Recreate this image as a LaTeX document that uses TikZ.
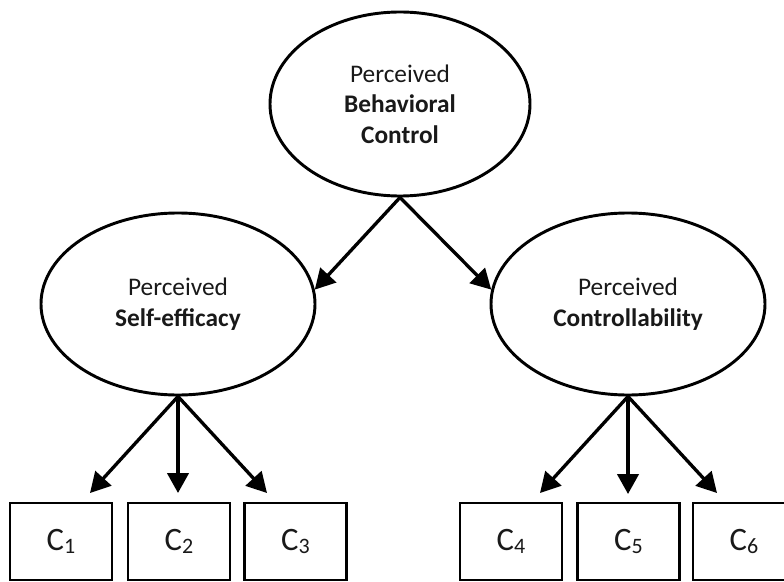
\documentclass[tikz,border=0pt]{standalone}
\usepackage{fontspec}
\setmainfont{Carlito}
\usetikzlibrary{arrows.meta,shapes.geometric}
\newcommand\Csub[1]{C\raisebox{-0.1em}{\fontsize{16.5}{17}\selectfont #1}}
\begin{document}
\begin{tikzpicture}[x=0.75pt,y=-0.75pt,
  latent/.style={draw, ellipse, line width=2.2pt, inner sep=0pt, align=center,
    font=\fontsize{19}{23}\selectfont, text=black!90},
  indicator/.style={draw, rectangle, line width=2.2pt, minimum width=76.5pt,
    minimum height=57.75pt, inner sep=0pt, font=\fontsize{24.5}{28}\selectfont, text=black!90},
  link/.style={line width=2.5pt, -{Triangle[length=15pt,width=16pt]}}]
\useasboundingbox (0,0) rectangle (784,581);
\clip (0,0) rectangle (784,581);

\node[latent, minimum width=195pt, minimum height=138pt] (pbc) at (400,104)
  {Perceived\\\textbf{Behavioral}\\\textbf{Control}};
\node[latent, minimum width=205.5pt, minimum height=136.5pt] (pse) at (178,304)
  {Perceived\\\textbf{Self-efficacy}};
\node[latent, minimum width=205.5pt, minimum height=136.5pt] (pc) at (628,304)
  {Perceived\\\textbf{Controllability}};

\node[indicator] (c1) at (61,541.5) {\Csub{1}};
\node[indicator] (c2) at (179,541.5) {\Csub{2}};
\node[indicator] (c3) at (295.5,541.5) {\Csub{3}};
\node[indicator] (c4) at (511,541.5) {\Csub{4}};
\node[indicator] (c5) at (628.5,541.5) {\Csub{5}};
\node[indicator] (c6) at (744,541.5) {\Csub{6}};

\coordinate (t1) at (90,493);
\coordinate (t2) at (178,493);
\coordinate (t3) at (267,493);
\coordinate (t4) at (540,493);
\coordinate (t5) at (628,494);
\coordinate (t6) at (717,493);

\draw[link] (pbc.south) -- (pse.6);
\draw[link] (pbc.south) -- (pc.174);
\draw[link] (pse.south) -- (t1);
\draw[link] (pse.south) -- (t2);
\draw[link] (pse.south) -- (t3);
\draw[link] (pc.south) -- (t4);
\draw[link] (pc.south) -- (t5);
\draw[link] (pc.south) -- (t6);
\end{tikzpicture}
\end{document}
